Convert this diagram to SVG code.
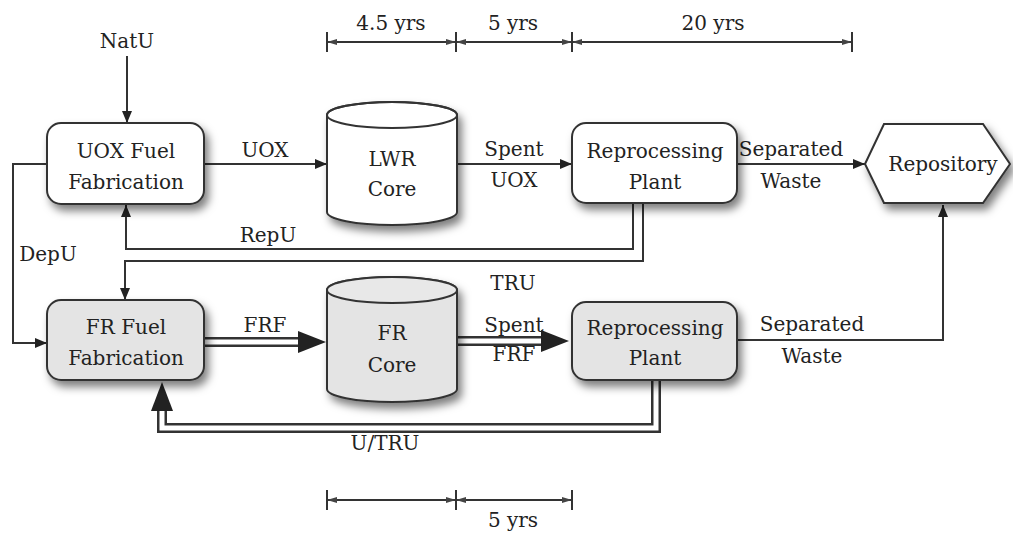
<svg xmlns="http://www.w3.org/2000/svg" width="1013" height="533" viewBox="0 0 1013 533">
<defs>
<filter id="sh" x="-20%" y="-20%" width="150%" height="160%">
<feDropShadow dx="4" dy="6" stdDeviation="4" flood-color="#000" flood-opacity="0.5"/>
</filter>
<marker id="ah" viewBox="0 0 12 10" refX="12" refY="5" markerWidth="12" markerHeight="10" markerUnits="userSpaceOnUse" orient="auto">
<path d="M0,0 L12,5 L0,10 Z" fill="#222"/>
</marker>
<marker id="tk" viewBox="0 0 10 8" refX="10" refY="4" markerWidth="10" markerHeight="8" markerUnits="userSpaceOnUse" orient="auto-start-reverse">
<path d="M0,1 L10,4 L0,7 Z" fill="#444"/>
</marker>
</defs>
<style>
text{font-family:"DejaVu Serif","Liberation Serif",serif;font-size:20px;fill:#222;text-anchor:middle}
.node{stroke:#333;stroke-width:2}
.w{fill:#fff}
.g{fill:#e4e4e4}
.ln{fill:none;stroke:#333;stroke-width:2}
.dbo{fill:none;stroke:#333;stroke-width:10}
.dbi{fill:none;stroke:#fff;stroke-width:5}
.tl{fill:none;stroke:#333;stroke-width:2}
</style>
<rect width="1013" height="533" fill="#fff"/>

<g id="connectors">
<line class="ln" x1="127" y1="56" x2="127" y2="123" marker-end="url(#ah)"/>
<line class="ln" x1="204" y1="164" x2="327" y2="164" marker-end="url(#ah)"/>
<line class="ln" x1="457" y1="164" x2="572" y2="164" marker-end="url(#ah)"/>
<line class="ln" x1="737" y1="164" x2="865" y2="164" marker-end="url(#ah)"/>
<path class="ln" d="M47,164 H13 V343 H47" marker-end="url(#ah)"/>
<path class="ln" d="M633,204 V249 H126 V205" marker-end="url(#ah)"/>
<path class="ln" d="M643,204 V261 H125 V300" marker-end="url(#ah)"/>
<path class="ln" d="M737,340 H943 V205" marker-end="url(#ah)"/>
<path class="dbo" d="M204,342 H300"/>
<path class="dbi" d="M203,342 H301"/>
<polygon points="298,331 326,342 298,353" fill="#222"/>
<path class="dbo" d="M457,341 H543"/>
<path class="dbi" d="M456,341 H544"/>
<polygon points="541,330 569,341 541,352" fill="#222"/>
<path class="dbo" d="M656,380 V428 H162 V408"/>
<path class="dbi" d="M656,379 V428 H162 V407"/>
<polygon points="151,411 162,382 173,411" fill="#222"/>
</g>

<g id="timeline-top">
<line class="tl" x1="327" y1="42" x2="456" y2="42" marker-start="url(#tk)" marker-end="url(#tk)"/>
<line class="tl" x1="456" y1="42" x2="572" y2="42" marker-start="url(#tk)" marker-end="url(#tk)"/>
<line class="tl" x1="572" y1="42" x2="852" y2="42" marker-start="url(#tk)" marker-end="url(#tk)"/>
<line class="tl" x1="327" y1="32" x2="327" y2="52"/>
<line class="tl" x1="456" y1="32" x2="456" y2="52"/>
<line class="tl" x1="572" y1="32" x2="572" y2="52"/>
<line class="tl" x1="852" y1="32" x2="852" y2="52"/>
<text x="391" y="30">4.5 yrs</text>
<text x="513" y="30">5 yrs</text>
<text x="713" y="30">20 yrs</text>
</g>

<g id="timeline-bottom">
<line class="tl" x1="327" y1="500" x2="456" y2="500" marker-start="url(#tk)" marker-end="url(#tk)"/>
<line class="tl" x1="456" y1="500" x2="572" y2="500" marker-start="url(#tk)" marker-end="url(#tk)"/>
<line class="tl" x1="327" y1="490" x2="327" y2="510"/>
<line class="tl" x1="456" y1="490" x2="456" y2="510"/>
<line class="tl" x1="572" y1="490" x2="572" y2="510"/>
<text x="513" y="527">5 yrs</text>
</g>

<g id="labels">
<text x="127" y="48">NatU</text>
<text x="265" y="157">UOX</text>
<text x="514" y="156">Spent</text>
<text x="514" y="187">UOX</text>
<text x="791" y="156">Separated</text>
<text x="791" y="188">Waste</text>
<text x="48" y="261">DepU</text>
<text x="268" y="242">RepU</text>
<text x="513" y="290">TRU</text>
<text x="265" y="332">FRF</text>
<text x="514" y="332">Spent</text>
<text x="514" y="361">FRF</text>
<text x="812" y="331">Separated</text>
<text x="812" y="363">Waste</text>
<text x="385" y="450">U/TRU</text>
</g>

<g id="uox-fab">
<rect class="node w" x="47" y="123" width="157" height="81" rx="14" filter="url(#sh)"/>
<text x="126" y="158">UOX Fuel</text>
<text x="126" y="189">Fabrication</text>
</g>

<g id="lwr-core">
<path class="node w" d="M327,115 V212 A65,13 0 0 0 457,212 V115 A65,13 0 0 0 327,115 Z" filter="url(#sh)"/>
<ellipse class="node" cx="392" cy="115" rx="65" ry="13" fill="none"/>
<text x="392" y="166">LWR</text>
<text x="392" y="196">Core</text>
</g>

<g id="reproc-top">
<rect class="node w" x="572" y="123" width="165" height="80" rx="14" filter="url(#sh)"/>
<text x="655" y="158">Reprocessing</text>
<text x="655" y="189">Plant</text>
</g>

<g id="repository">
<polygon class="node w" points="865,164 884,124 983,124 1010,164 983,203 884,203" filter="url(#sh)"/>
<text x="943" y="171">Repository</text>
</g>

<g id="fr-fab">
<rect class="node g" x="47" y="300" width="157" height="80" rx="14" filter="url(#sh)"/>
<text x="126" y="334">FR Fuel</text>
<text x="126" y="365">Fabrication</text>
</g>

<g id="fr-core">
<path class="node g" d="M327,290 V389 A65,13 0 0 0 457,389 V290 A65,13 0 0 0 327,290 Z" filter="url(#sh)"/>
<ellipse class="node" cx="392" cy="290" rx="65" ry="13" fill="#e8e8e8"/>
<text x="392" y="340">FR</text>
<text x="392" y="372">Core</text>
</g>

<g id="reproc-bottom">
<rect class="node g" x="572" y="302" width="165" height="78" rx="14" filter="url(#sh)"/>
<text x="655" y="335">Reprocessing</text>
<text x="655" y="365">Plant</text>
</g>
</svg>
